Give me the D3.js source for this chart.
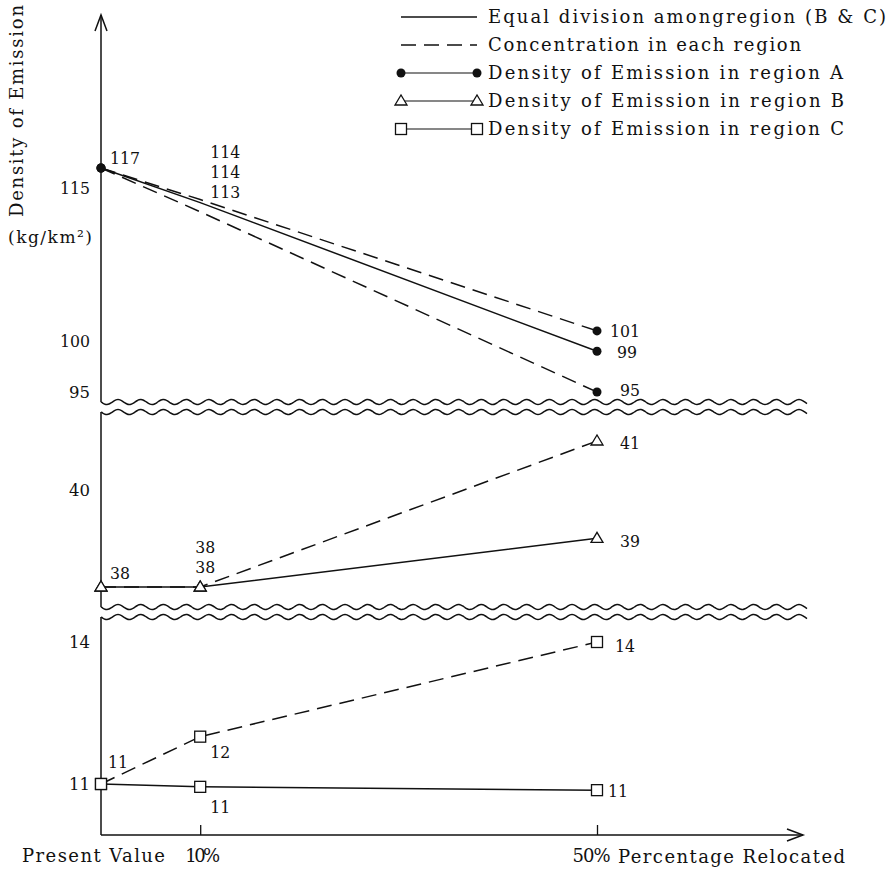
<!DOCTYPE html>
<html>
<head>
<meta charset="utf-8">
<script src="https://cdn.jsdelivr.net/npm/d3@7"></script>
<style>
  body { margin: 0; background: #fff; }
  svg { display: block; background: #fff; }
</style>
</head>
<body>
<svg width="887" height="869"></svg>
<script>
// ---- data ----
const xPct = [0, 10, 50];
const xTickLabels = ["Present Value", "10%", "50%"];

const aEqual    = [117, 113.6, 99];
const aConcHigh = [117, 113.9, 101];
const aConcLow  = [117, 112.7, 95];
const bEqual    = [38, 38, 39];
const bConc     = [38, 38, 41];
const cEqual    = [11, 10.94, 10.87];
const cConc     = [11, 12, 14];

const ticksA = [115, 100, 95];
const ticksB = [40];
const ticksC = [14, 11];

const legendLabels = [
  "Equal division amongregion (B & C)",
  "Concentration in each region",
  "Density of Emission in region A",
  "Density of Emission in region B",
  "Density of Emission in region C"
];

const FONT = "'DejaVu Serif', serif";
const svg = d3.select("svg");
const ink = "#111";

const x = d3.scaleLinear().domain([0, 50]).range([101, 597]);
const yA = d3.scaleLinear().domain([95, 117]).range([392, 168]);
const yB = d3.scaleLinear().domain([38, 41]).range([587, 441]);
const yC = d3.scaleLinear().domain([11, 14]).range([784, 642]);

function txt(sel, size) {
  return sel.style("font-family", FONT).style("font-size", size + "px").attr("fill", ink);
}

// series: which points get a marker / a value label, and where the label sits (offsets)
const series = [
  { v: aConcHigh, y: yA, dash: true,  mark: "dot", marks: [0, 2], labels: [null, [10, -42], [13, 6]] },
  { v: aEqual,    y: yA, dash: false, mark: "dot", marks: [0, 2], labels: [[9, -4], [10, -25], [20, 7]] },
  { v: aConcLow,  y: yA, dash: true,  mark: "dot", marks: [0, 2], labels: [null, [10, -14], [23, 4]] },
  { v: bEqual,    y: yB, dash: false, mark: "tri", marks: [0, 1, 2], labels: [[9, -8], [-5, -14], [23, 9]] },
  { v: bConc,     y: yB, dash: true,  mark: "tri", marks: [0, 1, 2], labels: [null, [-5, -34], [23, 8]] },
  { v: cEqual,    y: yC, dash: false, mark: "sq",  marks: [0, 1, 2], labels: [[7, -16], [10, 26], [11, 7]] },
  { v: cConc,     y: yC, dash: true,  mark: "sq",  marks: [0, 1, 2], labels: [null, [10, 21], [18, 10]] }
];

// ---- axes ----
function yAxis(scale, ticks) {
  const g = svg.append("g").attr("transform", "translate(101,0)")
    .call(d3.axisLeft(scale).tickValues(ticks).tickSize(0).tickPadding(11).tickFormat(d3.format("d")));
  g.select(".domain").remove();
  txt(g.selectAll("text"), 17).attr("textLength", d => d >= 100 ? 30 : 21).attr("lengthAdjust", "spacingAndGlyphs");
}
yAxis(yA, ticksA);
yAxis(yB, ticksB);
yAxis(yC, ticksC);

// axis segments between the breaks
[[15, 402], [412, 607], [617, 835]].forEach(([y0, y1]) => {
  svg.append("line").attr("x1", 101).attr("x2", 101).attr("y1", y0).attr("y2", y1)
    .attr("stroke", ink).attr("stroke-width", 1.5);
});
svg.append("path").attr("d", "M95,31 L101,15 L107,31").attr("fill", "none").attr("stroke", ink).attr("stroke-width", 1.5);

const xg = svg.append("g").attr("transform", "translate(0,835)")
  .call(d3.axisBottom(x).tickValues(xPct).tickSizeInner(-10).tickSizeOuter(0).tickPadding(14)
    .tickFormat((d, i) => xTickLabels[i]));
xg.select(".domain").remove();
xg.selectAll(".tick line").attr("stroke", ink).attr("stroke-width", 1.3).filter(d => d === 0).remove();
txt(xg.selectAll(".tick text"), 18)
  .attr("dx", (d, i) => [-8, 2, -6][i])
  .attr("textLength", (d, i) => [143, 35, 38][i]).attr("lengthAdjust", "spacing");
svg.append("line").attr("x1", 101).attr("x2", 803).attr("y1", 835).attr("y2", 835)
  .attr("stroke", ink).attr("stroke-width", 1.5);
svg.append("path").attr("d", "M787,829 L803,835 L787,841").attr("fill", "none").attr("stroke", ink).attr("stroke-width", 1.5);

txt(svg.append("text").attr("x", 618).attr("y", 863), 18)
  .attr("textLength", 227).attr("lengthAdjust", "spacing").text("Percentage Relocated");

txt(svg.append("text").attr("transform", "translate(23,111) rotate(-90)").attr("text-anchor", "middle"), 18)
  .attr("textLength", 212).attr("lengthAdjust", "spacing").text("Density of Emission");
txt(svg.append("text").attr("x", 8).attr("y", 243), 17)
  .attr("textLength", 84).attr("lengthAdjust", "spacing").text("(kg/km²)");

// ---- axis breaks (double wavy lines) ----
const wave = d3.line().curve(d3.curveBasis);
function wavy(y0) {
  const pts = d3.range(101, 809, 2).map(px => [px, y0 + 2.6 * Math.sin((px - 101) / 22.7 * 2 * Math.PI)]);
  svg.append("path").attr("d", wave(pts)).attr("fill", "none").attr("stroke", ink).attr("stroke-width", 1.5);
}
[402, 412, 607, 617].forEach(wavy);

// ---- marker drawing ----
function marker(g, type, px, py) {
  if (type === "dot") {
    g.append("circle").attr("cx", px).attr("cy", py).attr("r", 4.5).attr("fill", ink);
  } else if (type === "tri") {
    g.append("path").attr("d", `M${px - 6},${py + 4} L${px},${py - 6} L${px + 6},${py + 4} Z`)
      .attr("fill", "#fff").attr("stroke", ink).attr("stroke-width", 1.3);
  } else {
    g.append("rect").attr("x", px - 5.5).attr("y", py - 5.5).attr("width", 11).attr("height", 11)
      .attr("fill", "#fff").attr("stroke", ink).attr("stroke-width", 1.3);
  }
}

// ---- series ----
const lineGen = s => d3.line().x((d, i) => x(xPct[i])).y(d => s.y(d));
series.forEach(s => {
  svg.append("path").datum(s.v).attr("d", lineGen(s))
    .attr("fill", "none").attr("stroke", ink).attr("stroke-width", 1.5)
    .attr("stroke-dasharray", s.dash ? "15,8" : null);
});
series.forEach(s => {
  s.marks.forEach(i => marker(svg, s.mark, x(xPct[i]), s.y(s.v[i])));
  s.labels.forEach((off, i) => {
    if (!off) return;
    const t = d3.format("d")(Math.round(s.v[i]));
    txt(svg.append("text").attr("x", x(xPct[i]) + off[0]).attr("y", s.y(s.v[i]) + off[1]), 17)
      .attr("textLength", t.length * 10).attr("lengthAdjust", "spacingAndGlyphs").text(t);
  });
});

// ---- legend ----
const legendRows = [
  { dash: false, mark: null },
  { dash: true,  mark: null },
  { dash: false, mark: "dot" },
  { dash: false, mark: "tri" },
  { dash: false, mark: "sq" }
];
const legendLen = [398, 313, 355, 356, 356];
legendRows.forEach((r, i) => {
  const ly = 17 + i * 28;
  svg.append("line").attr("x1", 401).attr("x2", 477).attr("y1", ly).attr("y2", ly)
    .attr("stroke", ink).attr("stroke-width", r.mark ? 1.2 : 1.5)
    .attr("stroke-dasharray", r.dash ? "15,8" : null);
  if (r.mark) { marker(svg, r.mark, 401, ly); marker(svg, r.mark, 477, ly); }
  txt(svg.append("text").attr("x", 488).attr("y", ly + 6), 18)
    .attr("textLength", legendLen[i]).attr("lengthAdjust", "spacing").text(legendLabels[i]);
});
</script>
</body>
</html>
